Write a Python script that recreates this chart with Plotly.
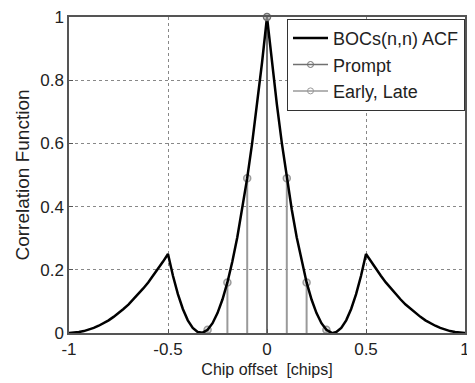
import plotly.graph_objects as go

# Chip offset samples and read ACF values (BOCs(n,n) ACF curve)
tau = [-1.0, -0.975, -0.95, -0.925, -0.9, -0.875, -0.85, -0.825, -0.8, -0.775,
       -0.75, -0.725, -0.7, -0.675, -0.65, -0.625, -0.6, -0.575, -0.55, -0.525,
       -0.5, -0.475, -0.45, -0.425, -0.4, -0.375, -0.35, -0.333, -0.325, -0.3,
       -0.275, -0.25, -0.225, -0.2, -0.175, -0.15, -0.125, -0.1, -0.075, -0.05,
       -0.025, 0.0, 0.025, 0.05, 0.075, 0.1, 0.125, 0.15, 0.175, 0.2,
       0.225, 0.25, 0.275, 0.3, 0.325, 0.333, 0.35, 0.375, 0.4, 0.425,
       0.45, 0.475, 0.5, 0.525, 0.55, 0.575, 0.6, 0.625, 0.65, 0.675,
       0.7, 0.725, 0.75, 0.775, 0.8, 0.825, 0.85, 0.875, 0.9, 0.925,
       0.95, 0.975, 1.0]
acf = [0.0, 0.001, 0.003, 0.006, 0.01, 0.016, 0.023, 0.031, 0.04, 0.051,
       0.063, 0.076, 0.09, 0.106, 0.123, 0.141, 0.16, 0.181, 0.203, 0.226,
       0.25, 0.181, 0.123, 0.076, 0.04, 0.016, 0.003, 0.0, 0.001, 0.01,
       0.031, 0.063, 0.106, 0.16, 0.226, 0.303, 0.391, 0.49, 0.601, 0.723,
       0.856, 1.0, 0.856, 0.723, 0.601, 0.49, 0.391, 0.303, 0.226, 0.16,
       0.106, 0.063, 0.031, 0.01, 0.001, 0.0, 0.003, 0.016, 0.04, 0.076,
       0.123, 0.181, 0.25, 0.226, 0.203, 0.181, 0.16, 0.141, 0.123, 0.106,
       0.09, 0.076, 0.063, 0.051, 0.04, 0.031, 0.023, 0.016, 0.01, 0.006,
       0.003, 0.001, 0.0]

prompt_x = [0.0]
prompt_y = [1.0]
el_x = [-0.3, -0.2, -0.1, 0.1, 0.2, 0.3]
el_y = [0.01, 0.16, 0.49, 0.49, 0.16, 0.01]

x_ticks = [-1, -0.5, 0, 0.5, 1]
x_tick_text = ["-1", "-0.5", "0", "0.5", "1"]
y_ticks = [0, 0.2, 0.4, 0.6, 0.8, 1]
y_tick_text = ["0", "0.2", "0.4", "0.6", "0.8", "1"]

PROMPT_C = "#707070"
EL_C = "#9a9a9a"
FONT = "Liberation Sans, Arial"


def stem_xy(xs, ys):
    sx, sy = [], []
    for a, b in zip(xs, ys):
        sx += [a, a, None]
        sy += [0, b, None]
    return sx, sy


fig = go.Figure()

# Early/Late stems
ex, ey = stem_xy(el_x, el_y)
fig.add_trace(go.Scatter(x=ex, y=ey, mode="lines", line=dict(color=EL_C, width=2),
                         showlegend=False, hoverinfo="skip"))
fig.add_trace(go.Scatter(x=el_x, y=el_y, mode="markers",
                         marker=dict(symbol="circle", size=7, color="rgba(200,200,200,0.6)",
                                     line=dict(color=EL_C, width=1.5)),
                         showlegend=False))
# Prompt stem
px_, py_ = stem_xy(prompt_x, prompt_y)
fig.add_trace(go.Scatter(x=px_, y=py_, mode="lines", line=dict(color=PROMPT_C, width=2),
                         showlegend=False, hoverinfo="skip"))

# ACF curve
fig.add_trace(go.Scatter(x=tau, y=acf, mode="lines", line=dict(color="black", width=2.5),
                         name="BOCs(n,n) ACF"))
fig.add_trace(go.Scatter(x=prompt_x, y=prompt_y, mode="markers",
                         marker=dict(symbol="circle", size=7, color="rgba(200,200,200,0.6)",
                                     line=dict(color=PROMPT_C, width=1.5)),
                         showlegend=False, cliponaxis=False))

# Legend-only entries
fig.add_trace(go.Scatter(x=[None], y=[None], mode="lines+markers", name="Prompt",
                         line=dict(color=PROMPT_C, width=1.5),
                         marker=dict(symbol="circle-open", size=6, color=PROMPT_C)))
fig.add_trace(go.Scatter(x=[None], y=[None], mode="lines+markers", name="Early, Late",
                         line=dict(color=EL_C, width=1.5),
                         marker=dict(symbol="circle-open", size=6, color=EL_C)))

axis_common = dict(showline=True, linecolor="#555", linewidth=1.5, mirror=True,
                   ticks="inside", ticklen=4, tickcolor="#555", zeroline=False,
                   showgrid=True, gridcolor="#888", griddash="dot", gridwidth=1,
                   automargin=False, ticklabeloverflow="allow",
                   tickfont=dict(family=FONT, size=17, color="#222"))

fig.update_xaxes(range=[-1, 1], tickvals=x_ticks, ticktext=x_tick_text,
                 title=dict(text="Chip offset\u00a0\u00a0[chips]", standoff=6,
                            font=dict(family=FONT, size=16, color="#222")),
                 **axis_common)
fig.update_yaxes(range=[0, 1], tickvals=y_ticks, ticktext=y_tick_text,
                 title=dict(text="Correlation Function", standoff=6,
                            font=dict(family=FONT, size=19, color="#222")),
                 **axis_common)

# page body adds an 8px offset; size the figure to fit the 475x383 window
fig.update_layout(
    width=467, height=375,
    margin=dict(l=61, r=10, t=9, b=50, autoexpand=False),
    paper_bgcolor="white", plot_bgcolor="white",
    legend=dict(x=1.0, y=0.994, xanchor="right", yanchor="top",
                bgcolor="white", bordercolor="#333", borderwidth=1,
                font=dict(family=FONT, size=18, color="#222"),
                tracegroupgap=0, itemwidth=35),
)

fig.write_html("out.html")
